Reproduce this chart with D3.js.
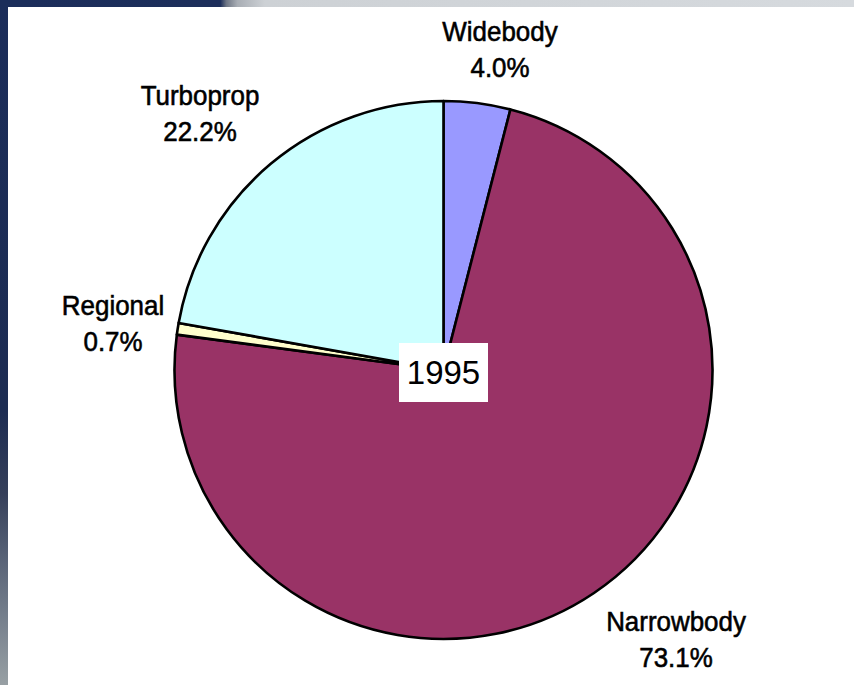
<!DOCTYPE html>
<html>
<head>
<meta charset="utf-8">
<script src="https://cdn.jsdelivr.net/npm/d3@7"></script>
<style>
  html, body { margin: 0; padding: 0; background: #fff; }
  svg { display: block; }
</style>
</head>
<body>
<svg id="chart" width="854" height="685"></svg>
<script>
// Aircraft fleet mix, 1995 (share of fleet, %)
const categories = ["Widebody", "Narrowbody", "Regional", "Turboprop"];
const shares = [4.0, 73.1, 0.7, 22.2];
const sliceColors = ["#9999ff", "#993366", "#ffffcc", "#ccffff"];
const yearLabel = "1995";

const W = 854, H = 685;
const cx = 443.5, cy = 370, R = 269;

const svg = d3.select("#chart");

// slide frame: navy band on the left and top, fading to grey
const defs = svg.append("defs");
const gTop = defs.append("linearGradient").attr("id", "topBand")
  .attr("x1", 0).attr("x2", 1).attr("y1", 0).attr("y2", 0);
[[0, "#1b2d5a"], [0.258, "#1c2e5a"], [0.265, "#6d7584"], [0.278, "#a8adb4"],
 [0.31, "#cdd1d5"], [1, "#d6dade"]].forEach(([o, c]) =>
  gTop.append("stop").attr("offset", o).attr("stop-color", c));
const gLeft = defs.append("linearGradient").attr("id", "leftBand")
  .attr("x1", 0).attr("x2", 0).attr("y1", 0).attr("y2", 1);
[[0, "#1b2d5a"], [0.6, "#1d2c52"], [0.72, "#36405a"], [0.82, "#5a6478"],
 [0.9, "#757f8c"], [1, "#98a0a4"]].forEach(([o, c]) =>
  gLeft.append("stop").attr("offset", o).attr("stop-color", c));

svg.append("rect").attr("x", 0).attr("y", 0).attr("width", W).attr("height", 7)
  .attr("fill", "url(#topBand)");
svg.append("rect").attr("x", 0).attr("y", 0).attr("width", 8).attr("height", H)
  .attr("fill", "url(#leftBand)");

const data = categories.map((c, i) => ({ name: c, value: shares[i], color: sliceColors[i] }));

const pie = d3.pie().value(d => d.value).sort(null);
const arc = d3.arc().innerRadius(0).outerRadius(R);
const arcs = pie(data);

const g = svg.append("g").attr("transform", `translate(${cx},${cy})`);
g.selectAll("path.slice")
  .data(arcs)
  .join("path")
  .attr("class", "slice")
  .attr("d", arc)
  .attr("fill", d => d.data.color)
  .attr("stroke", "#000")
  .attr("stroke-width", 2.6)
  .attr("stroke-linejoin", "round");

// category labels with percentages (condensed sans)
const labelPos = {
  "Widebody":   [500, 41],
  "Narrowbody": [676, 631],
  "Regional":   [113, 315],
  "Turboprop":  [200, 105]
};
const labelFont = "'Liberation Sans', Arial, sans-serif";
const squeeze = 0.91;
const labels = svg.append("g");
arcs.forEach(a => {
  const [x, y] = labelPos[a.data.name];
  const t = labels.append("text")
    .attr("transform", `translate(${x},${y}) scale(${squeeze},1)`)
    .attr("text-anchor", "middle")
    .attr("font-family", labelFont)
    .attr("font-size", 28.5)
    .attr("fill", "#000")
    .attr("stroke", "#000")
    .attr("stroke-width", 0.6);
  t.append("tspan").attr("x", 0).attr("dy", 0).text(a.data.name);
  t.append("tspan").attr("x", 0).attr("dy", 36).text(d3.format(".1f")(a.data.value) + "%");
});

// year badge at the centre
svg.append("rect")
  .attr("x", 399).attr("y", 343).attr("width", 89).attr("height", 59)
  .attr("fill", "#fff");
svg.append("text")
  .attr("x", 443.5).attr("y", 384)
  .attr("text-anchor", "middle")
  .attr("font-family", "'Liberation Sans', Arial, sans-serif")
  .attr("font-size", 33)
  .attr("fill", "#000")
  .text(yearLabel);
</script>
</body>
</html>
